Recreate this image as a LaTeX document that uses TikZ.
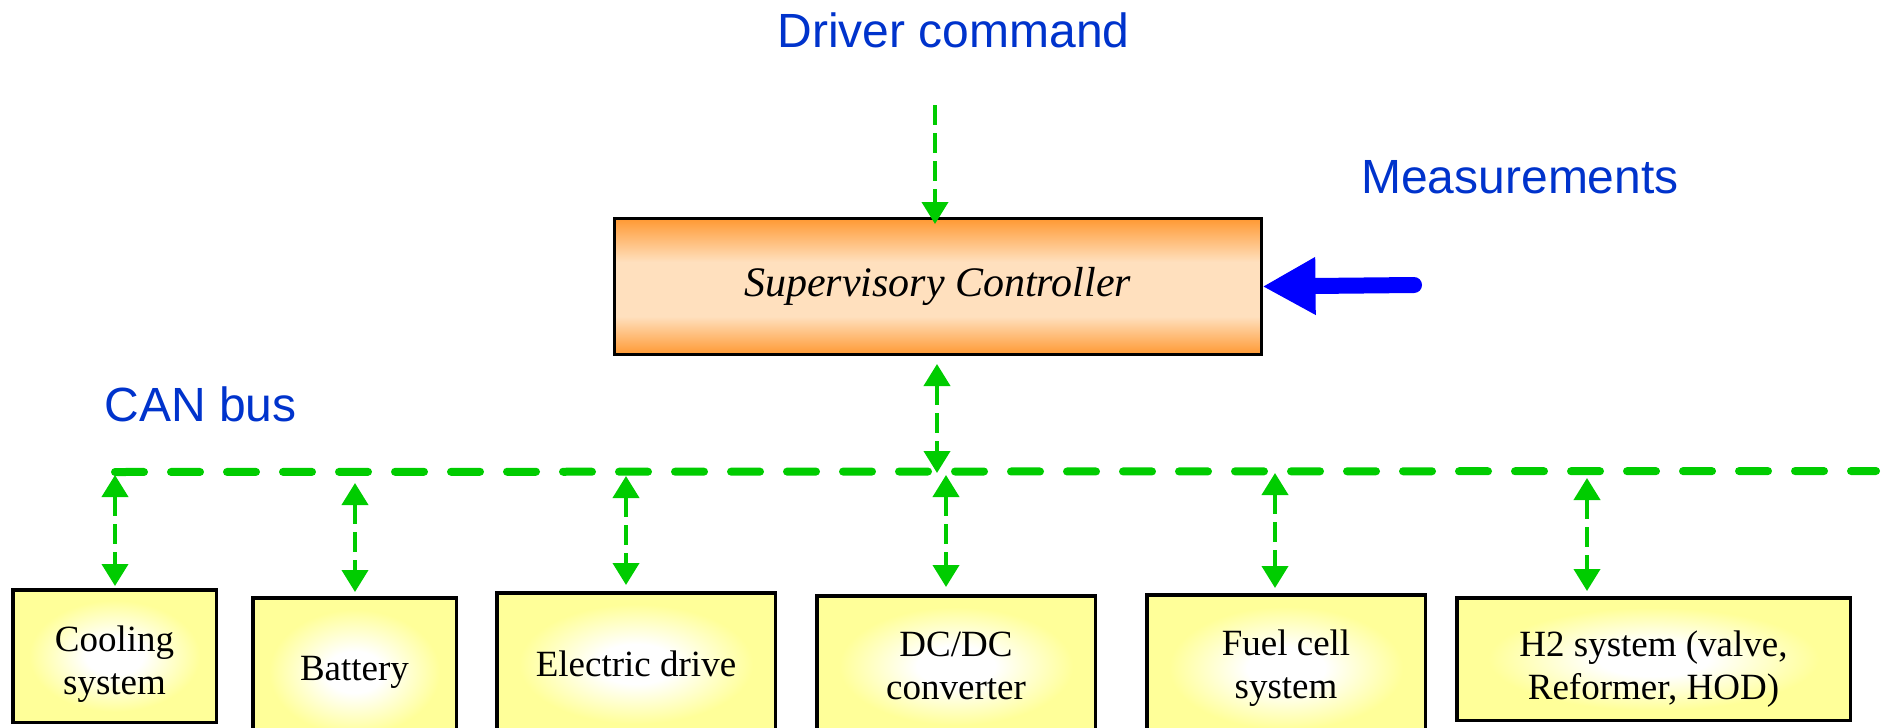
\documentclass[tikz,border=0pt]{standalone}
\usepackage{fontspec}
\setmainfont{Liberation Serif}
\newfontfamily\labelsans{Liberation Sans}
\usetikzlibrary{arrows.meta}
\definecolor{busgreen}{RGB}{0,204,0}
\definecolor{lblblue}{RGB}{0,51,204}
\definecolor{arrblue}{RGB}{0,0,255}
\definecolor{orEdge}{RGB}{255,153,51}
\definecolor{orMid}{RGB}{255,224,190}
\definecolor{ylw}{RGB}{255,255,153}
\pgfdeclareverticalshading{ctrlshade}{100bp}{color(0bp)=(orEdge); color(25bp)=(orEdge); color(39bp)=(orMid); color(59bp)=(orMid); color(75bp)=(orEdge); color(100bp)=(orEdge)}
\pgfdeclareradialshading{unitshade}{\pgfpoint{0bp}{0bp}}{color(0bp)=(white); color(7bp)=(white); color(21bp)=(ylw); color(50bp)=(ylw)}
\begin{document}
\begin{tikzpicture}[x=1pt,y=-1pt,
  ctrlbox/.style={draw=black, line width=3pt, shading=ctrlshade, minimum width=647pt, minimum height=136pt, inner sep=0pt, font=\fontsize{42}{50}\selectfont\itshape},
  unitbox/.style={draw=black, line width=3.5pt, shading=unitshade, inner sep=0pt, align=center, font=\fontsize{37}{43}\selectfont},
  lbl/.style={text=lblblue, font=\labelsans\fontsize{48}{58}\selectfont, anchor=base, inner sep=0pt},
  bus/.style={draw=busgreen, line width=8pt, line cap=round, dash pattern=on 29pt off 27pt},
  link/.style={draw=busgreen, line width=4pt, dash pattern=on 20pt off 8pt, arrows={-Triangle[length=22pt,width=26pt]}},
  duplex/.style={draw=busgreen, line width=4pt, dash pattern=on 20pt off 8pt, arrows={Triangle[length=22pt,width=26pt]-Triangle[length=22pt,width=26pt]}},
  meas/.style={draw=arrblue, line width=16pt, line cap=round, arrows={-Triangle[length=53pt,width=54pt]}}
]
\useasboundingbox (0,0) rectangle (1887,728);
\clip (0,0) rectangle (1887,728);

% labels
\node[lbl] (drv) at (953.5,47) {Driver command};
\node[lbl] (measlbl) at (1520,193) {Measurements};
\node[lbl] (canlbl) at (200.5,421) {CAN bus};

% controller
\node[ctrlbox] (ctrl) at (937.5,286.5) {Supervisory Controller};

% units
\node[unitbox, minimum width=203.5pt, minimum height=132.5pt, text height=84pt] (cool) at (114.5,656) {Cooling\\system};
\node[unitbox, minimum width=203.5pt, minimum height=148.5pt] (bat) at (354.5,672) {Battery};
\node[unitbox, minimum width=278.5pt, minimum height=142.5pt] (elec) at (636,664) {Electric drive};
\node[unitbox, minimum width=278.5pt, minimum height=140.5pt] (dcdc) at (956,666) {DC/DC\\converter};
\node[unitbox, minimum width=278.5pt, minimum height=146.5pt] (fuel) at (1286,668) {Fuel cell\\system};
\node[unitbox, minimum width=393.5pt, minimum height=122.5pt, text height=89pt] (htwo) at (1653.5,659) {H2 system (valve,\\Reformer, HOD)};

% bus
\coordinate (busL) at (115,472);
\coordinate (busR) at (1876,471);
\draw[bus] (busL) -- (busR);

% driver command
\coordinate (drvsrc) at (935,105);
\draw[link, shorten >=-7pt] (drvsrc) -- (drvsrc |- ctrl.north);

% controller to bus
\coordinate (tapC) at (937,473);
\draw[duplex, shorten <=8pt] (tapC |- ctrl.south) -- (tapC);

% taps to units
\coordinate (tap1) at (115,475);
\coordinate (tap2) at (355,483);
\coordinate (tap3) at (626,476);
\coordinate (tap4) at (946,475);
\coordinate (tap5) at (1275,473);
\coordinate (tap6) at (1587,478);
\draw[duplex, shorten >=2pt] (tap1) -- (tap1 |- cool.north);
\draw[duplex, shorten >=4pt] (tap2) -- (tap2 |- bat.north);
\draw[duplex, shorten >=6pt] (tap3) -- (tap3 |- elec.north);
\draw[duplex, shorten >=7pt] (tap4) -- (tap4 |- dcdc.north);
\draw[duplex, shorten >=5pt] (tap5) -- (tap5 |- fuel.north);
\draw[duplex, shorten >=5pt] (tap6) -- (tap6 |- htwo.north);

% measurements
\coordinate (meassrc) at (1414,285);
\draw[meas] (meassrc) -- (ctrl.east);
\end{tikzpicture}
\end{document}
